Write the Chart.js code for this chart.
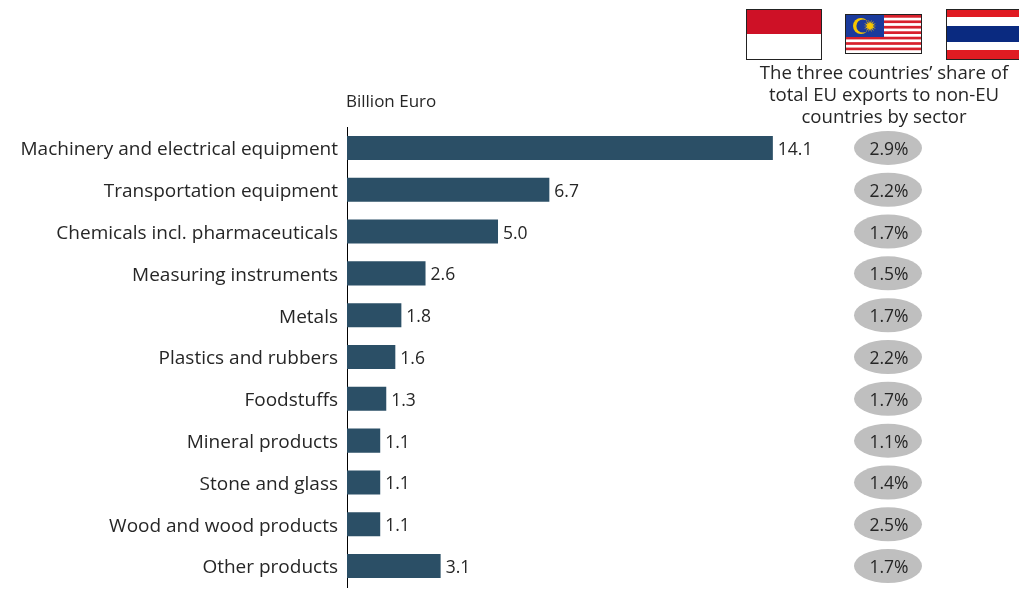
<!DOCTYPE html>
<html>
<head>
<meta charset="utf-8">
<style>
  html, body { margin: 0; padding: 0; background: #fff; }
  canvas { display: block; }
</style>
<script src="https://cdn.jsdelivr.net/npm/chart.js@4/dist/chart.umd.min.js"></script>
</head>
<body>
<canvas id="exportsChart" width="1019" height="592"></canvas>
<script>
// Sector data
const sectors = [
    'Machinery and electrical equipment', 'Transportation equipment',
    'Chemicals incl. pharmaceuticals', 'Measuring instruments', 'Metals',
    'Plastics and rubbers', 'Foodstuffs', 'Mineral products',
    'Stone and glass', 'Wood and wood products', 'Other products'
];
const exportsBn = [14.1, 6.7, 5.0, 2.6, 1.8, 1.6, 1.3, 1.1, 1.1, 1.1, 3.1];
const sharePct = ['2.9%', '2.2%', '1.7%', '1.5%', '1.7%', '2.2%', '1.7%', '1.1%', '1.4%', '2.5%', '1.7%'];
const shareHeader = ["The three countries\u2019 share of", 'total EU exports to non-EU', 'countries by sector'];

const FONT = '"Open Sans", sans-serif';
const TEXT = '#262626';

// Flags above the share column
function drawFlags(ctx) {
    ctx.save();
    // Indonesia
    ctx.fillStyle = '#ce1126';
    ctx.fillRect(747, 9, 75, 25);
    ctx.fillStyle = '#fff';
    ctx.fillRect(747, 34, 75, 25);
    ctx.strokeStyle = '#222';
    ctx.strokeRect(746.5, 9.5, 75, 50);

    // Malaysia
    const mx = 846, my = 15, mw = 75, mh = 38;
    for (let i = 0; i < 14; i++) {
        ctx.fillStyle = i % 2 === 0 ? '#d8202c' : '#fff';
        ctx.fillRect(mx, my + i * mh / 14, mw, mh / 14 + 0.5);
    }
    ctx.fillStyle = '#1a3a9c';
    ctx.fillRect(mx, my, 38, 22);
    ctx.fillStyle = '#f7c600';
    ctx.beginPath();
    ctx.arc(mx + 15, my + 11, 8, 0, Math.PI * 2);
    ctx.fill();
    ctx.fillStyle = '#1a3a9c';
    ctx.beginPath();
    ctx.arc(mx + 17, my + 11, 6.6, 0, Math.PI * 2);
    ctx.fill();
    ctx.fillStyle = '#f7c600';
    ctx.beginPath();
    for (let i = 0; i < 28; i++) {
        const r = i % 2 === 0 ? 6.5 : 2.8;
        const a = i * Math.PI / 14;
        ctx.lineTo(mx + 24 + r * Math.cos(a), my + 11 + r * Math.sin(a));
    }
    ctx.closePath();
    ctx.fill();
    ctx.strokeStyle = '#222';
    ctx.strokeRect(mx - 0.5, my - 0.5, mw + 1, mh + 1);

    // Thailand
    const bands = [['#e01b22', 8], ['#fff', 9], ['#0a2a80', 16], ['#fff', 8], ['#e01b22', 9]];
    let ty = 9;
    bands.forEach(function(b) {
        ctx.fillStyle = b[0];
        ctx.fillRect(946, ty, 73, b[1]);
        ty += b[1];
    });
    ctx.strokeStyle = '#222';
    ctx.strokeRect(946.5, 9.5, 80, 50);
    ctx.restore();
}

// Value labels, share ellipses and the header texts
const annotations = {
    id: 'annotations',
    afterDatasetsDraw(chart) {
        const ctx = chart.ctx;
        const xs = chart.scales.x, ys = chart.scales.y;
        ctx.save();
        ctx.textBaseline = 'middle';

        exportsBn.forEach(function(v, i) {
            const y = ys.getPixelForValue(i);
            ctx.font = '17.5px ' + FONT;
            ctx.fillStyle = TEXT;
            ctx.textAlign = 'left';
            ctx.fillText(v.toFixed(1), xs.getPixelForValue(v) + 5, y + 2);

            ctx.fillStyle = '#bfbfbf';
            ctx.beginPath();
            ctx.ellipse(888, y, 34, 17, 0, 0, Math.PI * 2);
            ctx.fill();
            ctx.fillStyle = TEXT;
            ctx.textAlign = 'center';
            ctx.fillText(sharePct[i], 889, y + 2);
        });

        ctx.font = '17px ' + FONT;
        ctx.textAlign = 'left';
        ctx.fillText('Billion Euro', 346, 102);

        ctx.font = '18.6px ' + FONT;
        ctx.textAlign = 'center';
        shareHeader.forEach(function(line, i) {
            ctx.fillText(line, 884, 74 + i * 22);
        });

        drawFlags(ctx);
        ctx.restore();
    }
};

new Chart(document.getElementById('exportsChart'), {
    type: 'bar',
    plugins: [annotations],
    data: {
        labels: sectors,
        datasets: [{
            data: exportsBn,
            backgroundColor: '#2b4f66',
            categoryPercentage: 1,
            barPercentage: 0.575
        }]
    },
    options: {
        indexAxis: 'y',
        responsive: false,
        animation: false,
        layout: { padding: { top: 127, bottom: 5, left: 0, right: 0 } },
        plugins: { legend: { display: false }, tooltip: { enabled: false } },
        scales: {
            x: { display: false, min: 0, max: 22.25 },
            y: {
                afterFit: function(scale) {
                    scale.width = 347;
                    scale.paddingTop = 0;
                    scale.paddingBottom = 0;
                },
                border: { color: '#000', width: 1 },
                grid: { display: false, drawTicks: false },
                ticks: {
                    color: TEXT,
                    padding: 9,
                    labelOffset: 2,
                    autoSkip: false,
                    font: { family: FONT, size: 19 }
                }
            }
        }
    }
});
</script>
</body>
</html>
